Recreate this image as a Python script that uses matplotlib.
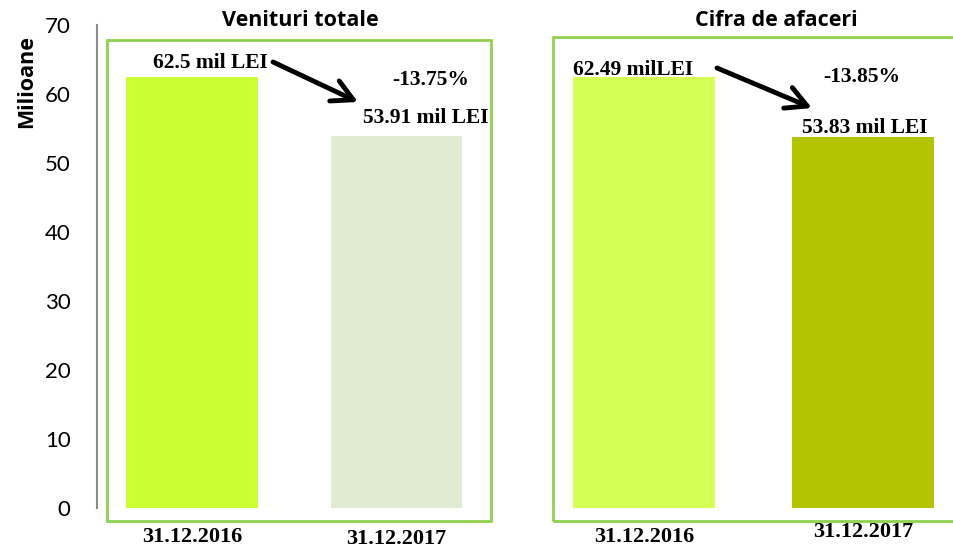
import matplotlib.pyplot as plt
from matplotlib.patches import Rectangle

# data
dates = ['31.12.2016', '31.12.2017']
venituri = [62.5, 53.91]
cifra = [62.49, 53.83]
venituri_labels = ['62.5 mil LEI', '53.91 mil LEI']
cifra_labels = ['62.49 milLEI', '53.83 mil LEI']
venituri_change = '-13.75%'
cifra_change = '-13.85%'
yticks = [0, 10, 20, 30, 40, 50, 60, 70]

W, H = 954, 548
fig = plt.figure(figsize=(W / 100, H / 100), dpi=100)


def fx(px):
    return px / W


def fy(py):
    return 1 - py / H


serif = 'Liberation Serif'
sans = 'Open Sans'
green = '#92D050'

# y axis (0 at y=508px, 70 at y=25px)
y0, y70 = 508, 25
ax_y = fig.add_axes([fx(97), fy(y0), 0.001, (y0 - y70) / H])
ax_y.set_ylim(0, 70)
ax_y.set_yticks(yticks)
ax_y.set_yticklabels([str(t) for t in yticks], fontsize=16, fontfamily='Lato')
ax_y.tick_params(axis='y', length=0, pad=19)
ax_y.set_xticks([])
for s in ['top', 'right', 'bottom']:
    ax_y.spines[s].set_visible(False)
ax_y.spines['left'].set_color('#8c8c8c')
ax_y.spines['left'].set_linewidth(1.5)
fig.text(fx(27), fy(82), 'Milioane', rotation=90, ha='center', va='center',
         fontsize=15.5, fontweight='bold', fontfamily=sans)

# panel frames
fig.patches.append(Rectangle((fx(107), fy(521)), fx(491 - 107), (521 - 40) / H,
                             transform=fig.transFigure, fill=False,
                             edgecolor=green, linewidth=2))
fig.patches.append(Rectangle((fx(553), fy(521)), fx(420), (521 - 37) / H,
                             transform=fig.transFigure, fill=False,
                             edgecolor=green, linewidth=2))


def panel(left, right, xlim, vals, colors, width, labels, change, title,
          title_x, lab_off, chg_pos, arrow, date_y):
    ax = fig.add_axes([fx(left), fy(y0), fx(right - left), (y0 - y70) / H])
    ax.set_xlim(*xlim)
    ax.set_ylim(0, 70)
    ax.bar([0, 1], vals, width=width, color=colors)
    ax.axis('off')
    for i, (v, lab) in enumerate(zip(vals, labels)):
        ax.annotate(lab, (i, v), xytext=lab_off[i], textcoords='offset pixels',
                    ha='center', va='center', fontsize=15.5, fontweight='bold',
                    fontfamily=serif)
        ax.annotate(dates[i], (i, 0), xytext=(0, -date_y[i]),
                    textcoords='offset pixels', ha='center', va='center',
                    fontsize=16, fontweight='bold', fontfamily=serif,
                    annotation_clip=False)
    fig.text(fx(chg_pos[0]), fy(chg_pos[1]), change, ha='center', va='center',
             fontsize=15.5, fontweight='bold', fontfamily=serif)
    fig.text(fx(title_x), fy(21), title, ha='center', va='center',
             fontsize=15.5, fontweight='bold', fontfamily=sans)
    (x1, yy1), (x2, yy2) = arrow
    ax.annotate('', xy=(fx(x2), fy(yy2)), xycoords='figure fraction',
                xytext=(fx(x1), fy(yy1)), textcoords='figure fraction',
                arrowprops=dict(arrowstyle='->,head_length=1.5,head_width=0.8',
                                color='black', lw=3.5, shrinkA=0, shrinkB=0))
    return ax


panel(106, 491, (-0.42, 1.462), venituri, ['#CCFF33', '#E0EBD1'], 0.645,
      venituri_labels, venituri_change, 'Venituri totale', 300,
      [(18, 14), (29, 18)], (431, 80), [(273, 62), (358, 102)], [29, 31])

panel(553, 954, (-0.416, 1.416), cifra, ['#D4FF55', '#B3C400'], 0.648,
      cifra_labels, cifra_change, 'Cifra de afaceri', 776,
      [(-11, 7), (2, 9)], (862, 77), [(717, 68), (812, 108)], [29, 24])

fig.savefig('out.png', dpi=100)
